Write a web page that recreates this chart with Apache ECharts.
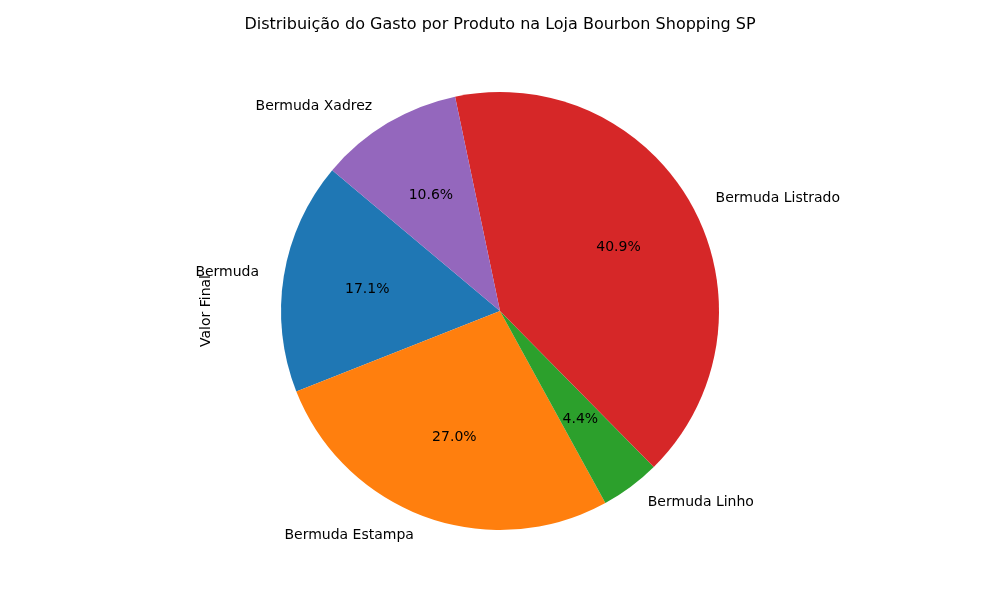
<!DOCTYPE html>
<html>
<head>
<meta charset="UTF-8"/>
<script src="https://cdn.jsdelivr.net/npm/echarts@6/dist/echarts.min.js"></script>
<style>body{margin:0}#main{width:1000px;height:600px}</style>
</head>
<body>
<div id="main"></div>
<script>
var produtos = ['Bermuda', 'Bermuda Estampa', 'Bermuda Linho', 'Bermuda Listrado', 'Bermuda Xadrez'];
var gastos = [17.1, 27.0, 4.4, 40.9, 10.6];
var cores = ['#1f77b4', '#ff7f0e', '#2ca02c', '#d62728', '#9467bd'];

var dados = produtos.map(function (p, i) {
    return {name: p, value: gastos[i], itemStyle: {color: cores[i]}};
});
var font = 'DejaVu Sans';

var myChart = echarts.init(document.getElementById('main'));
myChart.setOption({
    animation: false,
    title: {
        text: 'Distribuição do Gasto por Produto na Loja Bourbon Shopping SP',
        left: 'center', top: 12,
        textStyle: {fontFamily: font, fontSize: 16, fontWeight: 'normal', color: '#000'}
    },
    graphic: [{
        type: 'text', x: 206, y: 311, rotation: Math.PI / 2,
        style: {text: 'Valor Final', font: '14px DejaVu Sans', fill: '#000', align: 'center', verticalAlign: 'middle'}
    }],
    series: [
        {
            type: 'pie', center: [500, 311], radius: [0, 219],
            startAngle: 140, clockwise: false, silent: true,
            data: dados,
            label: {
                show: true, position: 'outside', fontFamily: font, fontSize: 14, color: '#000',
                formatter: '{b}'
            },
            labelLine: {show: false, length: 20, length2: 0}
        },
        {
            type: 'pie', center: [500, 311], radius: [0, 263],
            startAngle: 140, clockwise: false, silent: true,
            data: dados.map(function (d) { return {name: d.name, value: d.value}; }),
            itemStyle: {color: 'rgba(0,0,0,0)'},
            label: {
                show: true, position: 'inside', fontFamily: font, fontSize: 14, color: '#000',
                formatter: function (p) { return p.percent.toFixed(1) + '%'; }
            },
            labelLine: {show: false}
        }
    ]
});
</script>
</body>
</html>
